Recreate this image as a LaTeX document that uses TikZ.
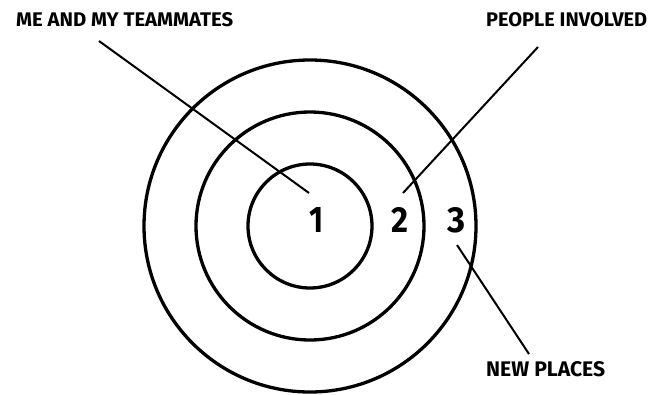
\documentclass[tikz,border=0pt]{standalone}
\usepackage{graphicx}
\usepackage{fontspec}
\setmainfont{Fira Sans}
\begin{document}
\begin{tikzpicture}[x=1pt,y=-1pt,
  ring/.style={circle,draw=black,line width=3.3pt,inner sep=0pt,minimum size=#1},
  pointer/.style={draw=black,line width=2pt},
  lbl/.style={inner sep=0pt,anchor=south west,text=black,font=\bfseries}]
\useasboundingbox (0,0) rectangle (651,394);
\node[ring=332pt] (outer) at (310,226) {};
\node[ring=228pt] (middle) at (310,226) {};
\node[ring=124pt] (inner) at (310,226) {};
\node[lbl] (n1) at (309,233) {\resizebox{14pt}{25pt}{1}};
\node[lbl] (n2) at (391,233) {\resizebox{17pt}{25pt}{2}};
\node[lbl] (n3) at (447,233) {\resizebox{18pt}{25pt}{3}};
\node[lbl] (l1) at (16,27) {\resizebox{217pt}{14pt}{ME AND MY TEAMMATES}};
\node[lbl] (l2) at (486,27) {\resizebox{161pt}{14pt}{PEOPLE INVOLVED}};
\node[lbl] (l3) at (486,377) {\resizebox{119pt}{15pt}{NEW PLACES}};
\coordinate (a1) at (99,41);
\coordinate (b1) at (309,193);
\coordinate (a2) at (538,47);
\coordinate (b2) at (403,193);
\coordinate (a3) at (457,245);
\coordinate (b3) at (529,354);
\draw[pointer] (a1) -- (b1);
\draw[pointer] (a2) -- (b2);
\draw[pointer] (a3) -- (b3);
\end{tikzpicture}
\end{document}
